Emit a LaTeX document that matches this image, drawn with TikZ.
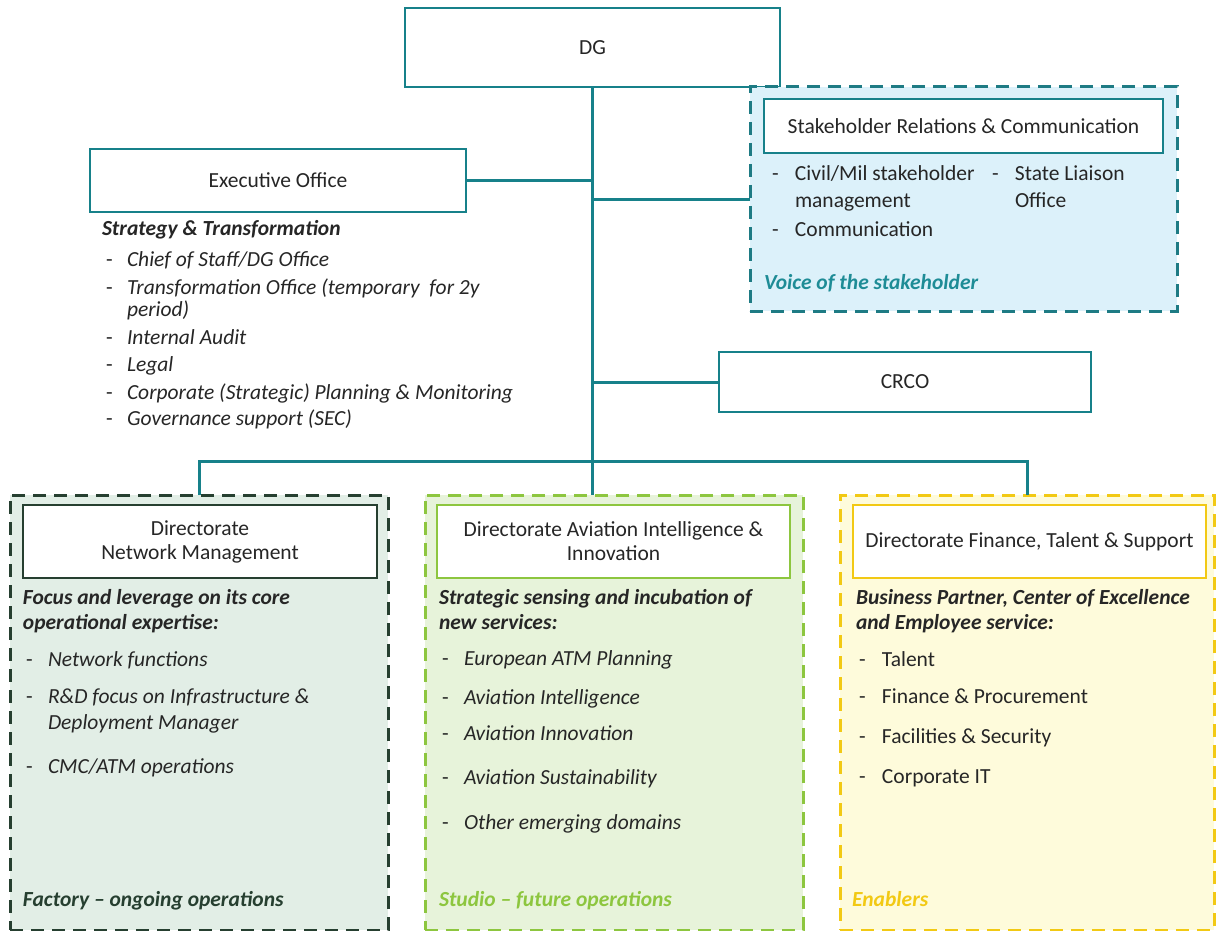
\documentclass[tikz,border=0pt]{standalone}
\usepackage{fontspec}
\setmainfont{Carlito}

\definecolor{teal}{HTML}{17818A}
\definecolor{ink}{HTML}{262626}
\definecolor{stkline}{HTML}{1E7B84}
\definecolor{stkfill}{HTML}{DCF1FA}
\definecolor{voice}{HTML}{1E8C96}
\definecolor{nmline}{HTML}{263F30}
\definecolor{nmfill}{HTML}{E2EEE6}
\definecolor{aiiline}{HTML}{8DC63F}
\definecolor{aiifill}{HTML}{E7F3DA}
\definecolor{ftsline}{HTML}{F2C914}
\definecolor{ftsfill}{HTML}{FEFBDB}

% list entry with a leading dash
\newcommand{\bul}[2][22pt]{\makebox[#1][l]{\upshape-}#2}

\begin{document}
\begin{tikzpicture}[x=1pt,y=-1pt,
  every node/.style={inner sep=0pt, outer sep=0pt},
  unit/.style={draw=teal, line width=2.7pt, fill=white, font=\fontsize{21.5}{24}\selectfont, text=ink, align=center},
  grp/.style={line width=3pt, dash pattern=on 13pt off 8pt},
  ln/.style={anchor=west, font=\fontsize{21.5}{24}\selectfont, text=ink, text height=0.7em, text depth=0.14em},
  hd/.style={ln, font=\fontsize{21.5}{24}\selectfont\bfseries\itshape},
  itl/.style={ln, font=\fontsize{21.5}{24}\selectfont\itshape},
  link/.style={draw=teal, line width=3pt}
]
\fill[white] (0,0) rectangle (1216,931);
\useasboundingbox (0,0) rectangle (1216,931);

% ---- top level ----
\node[unit, minimum width=375pt, minimum height=79pt] (dg) at (592.5,47.5) {DG};
\node[unit, minimum width=376pt, minimum height=63pt] (exec) at (278,180.5) {Executive Office};
\node[unit, minimum width=372pt, minimum height=60pt] (crco) at (905,382) {CRCO};

% ---- executive office duties ----
\node[hd] (st) at (102,233) {Strategy \& Transformation};
\node[itl] (e1) at (106,264) {\bul[21pt]{Chief of Staff/DG Office}};
\node[itl] (e2) at (106,292) {\bul[21pt]{Transformation Office (temporary \ for 2y}};
\node[itl] (e2b) at (127,314) {period)};
\node[itl] (e3) at (106,342) {\bul[21pt]{Internal Audit}};
\node[itl] (e4) at (106,369) {\bul[21pt]{Legal}};
\node[itl] (e5) at (106,397) {\bul[21pt]{Corporate (Strategic) Planning \& Monitoring}};
\node[itl] (e6) at (106,423) {\bul[21pt]{Governance support (SEC)}};

% ---- stakeholder relations ----
\node[grp, draw=stkline, fill=stkfill, minimum width=427pt, minimum height=224pt] (stkgrp) at (963.5,199) {};
\node[unit, minimum width=399pt, minimum height=54pt] (stk) at (963.5,126) {Stakeholder Relations \& Communication};
\node[ln] (s1) at (772,178) {\bul[23pt]{Civil/Mil stakeholder}};
\node[ln] (s1b) at (795,205) {management};
\node[ln] (s2) at (772,234) {\bul[23pt]{Communication}};
\node[ln] (s3) at (992,178) {\bul[23pt]{State Liaison}};
\node[ln] (s3b) at (1015,205) {Office};
\node[hd, text=voice] (voice) at (764,287) {Voice of the stakeholder};

% ---- directorate: network management ----
\node[grp, draw=nmline, fill=nmfill, minimum width=378pt, minimum height=435pt] (nmgrp) at (199,712.5) {};
\node[unit, draw=nmline, minimum width=354pt, minimum height=73pt] (nm) at (200,541.5) {Directorate\\Network Management};
\node[hd] (nmh1) at (23,602) {Focus and leverage on its core};
\node[hd] (nmh2) at (23,627) {operational expertise:};
\node[itl] (n1) at (26,664) {\bul{Network functions}};
\node[itl] (n2) at (26,701) {\bul{R\&D focus on Infrastructure \&}};
\node[itl] (n2b) at (48,727) {Deployment Manager};
\node[itl] (n3) at (26,771) {\bul{CMC/ATM operations}};
\node[hd, text=nmline] (nmtag) at (23,904) {Factory – ongoing operations};

% ---- directorate: aviation intelligence & innovation ----
\node[grp, draw=aiiline, fill=aiifill, minimum width=378pt, minimum height=435pt] (aiigrp) at (614,712.5) {};
\node[unit, draw=aiiline, minimum width=353pt, minimum height=73pt] (aii) at (613.5,541.5) {Directorate Aviation Intelligence \&\\Innovation};
\node[hd] (aih1) at (439,602) {Strategic sensing and incubation of};
\node[hd] (aih2) at (439,627) {new services:};
\node[itl] (a1) at (442,663) {\bul{European ATM Planning}};
\node[itl] (a2) at (442,702) {\bul{Aviation Intelligence}};
\node[itl] (a3) at (442,738) {\bul{Aviation Innovation}};
\node[itl] (a4) at (442,782) {\bul{Aviation Sustainability}};
\node[itl] (a5) at (442,827) {\bul{Other emerging domains}};
\node[hd, text=aiiline] (aiitag) at (439,904) {Studio – future operations};

% ---- directorate: finance, talent & support ----
\node[grp, draw=ftsline, fill=ftsfill, minimum width=374pt, minimum height=435pt] (ftsgrp) at (1027,712.5) {};
\node[unit, draw=ftsline, minimum width=353pt, minimum height=73pt] (fts) at (1029.5,541.5) {Directorate Finance, Talent \& Support};
\node[hd] (fh1) at (856,602) {Business Partner, Center of Excellence};
\node[hd] (fh2) at (856,627) {and Employee service:};
\node[ln] (f1) at (859,664) {\bul[23pt]{Talent}};
\node[ln] (f2) at (859,701) {\bul[23pt]{Finance \& Procurement}};
\node[ln] (f3) at (859,741) {\bul[23pt]{Facilities \& Security}};
\node[ln] (f4) at (859,781) {\bul[23pt]{Corporate IT}};
\node[hd, text=ftsline] (ftstag) at (852,904) {Enablers};

% ---- reporting lines ----
\coordinate (bus) at (592.5,461);
\draw[link] (dg.south) -- (dg.south |- aiigrp.north);
\draw[link] (exec.east) -- (exec.east -| dg.south);
\draw[link] (stkgrp.west) -- (stkgrp.west -| dg.south);
\draw[link] (crco.west) -- (crco.west -| dg.south);
\draw[link] (nmgrp.north) |- (bus) -| (ftsgrp.north);
\end{tikzpicture}
\end{document}
